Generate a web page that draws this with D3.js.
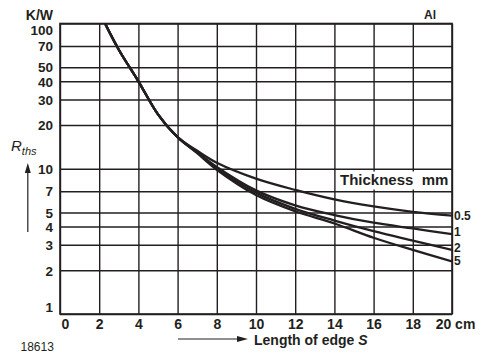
<!DOCTYPE html>
<html>
<head>
<meta charset="utf-8">
<script src="https://cdn.jsdelivr.net/npm/d3@7"></script>
<style>
  html, body { margin: 0; padding: 0; background: #fff; }
  svg { display: block; font-family: "Liberation Sans", Arial, Helvetica, sans-serif; }
</style>
</head>
<body>
<script>
// ---- data ----
const xTicks = [0, 2, 4, 6, 8, 10, 12, 14, 16, 18, 20];
const xTickLabels = ["0", "2", "4", "6", "8", "10", "12", "14", "16", "18", "20 cm"];
const yTicks = [1, 2, 3, 4, 5, 7, 10, 20, 30, 40, 50, 70, 100];
const yTickLabels = ["1", "2", "3", "4", "5", "7", "10", "20", "30", "40", "50", "70", "100"];

const edgeLength = [2.3, 3, 4, 5, 6, 7, 8, 10, 12, 14, 16, 18, 20];
const thick05 = [100, 66, 40, 23.7, 16.5, 13.3, 11.0, 8.55, 7.15, 6.15, 5.5, 5.05, 4.75];
const thick1  = [100, 66, 40, 23.7, 16.5, 13.0, 10.3, 7.1, 5.6, 4.8, 4.25, 3.88, 3.55];
const thick2  = [100, 66, 40, 23.7, 16.5, 12.9, 10.05, 6.85, 5.3, 4.4, 3.72, 3.2, 2.76];
const thick5  = [100, 66, 40, 23.7, 16.5, 12.8, 9.85, 6.6, 5.1, 4.2, 3.35, 2.76, 2.3];
const thicknessLabels = ["0.5", "1", "2", "5"];
const seriesValues = [thick05, thick1, thick2, thick5];

// ---- layout ----
const W = 483, H = 354;
const pLeft = 60, pRight = 452, pTop = 23.5, pBottom = 314;
const ink = "#231f20";

const svg = d3.select("body").append("svg").attr("width", W).attr("height", H);

const x = d3.scaleLinear().domain([0, 20]).range([pLeft, pRight]);
const y = d3.scaleLog().domain([1, 100]).range([pBottom, pTop]);

// Vertical grid + x labels
const xAxis = svg.append("g")
  .attr("transform", `translate(0,${pBottom})`)
  .call(d3.axisBottom(x).tickValues(xTicks).tickSize(-(pBottom - pTop)).tickPadding(5)
    .tickFormat((d, i) => xTickLabels[i]));
xAxis.select(".domain").remove();
xAxis.selectAll(".tick line").attr("stroke", ink).attr("stroke-width", 1.4);
xAxis.selectAll(".tick text")
  .attr("fill", ink).attr("font-size", 14).attr("font-weight", "bold")
  .attr("dx", (d, i) => i === 0 ? 5 : (i === xTicks.length - 1 ? 3 : 0));

// Horizontal grid + y labels
const yAxis = svg.append("g")
  .attr("transform", `translate(${pLeft},0)`)
  .call(d3.axisLeft(y).tickValues(yTicks).tickSize(-(pRight - pLeft)).tickPadding(7)
    .tickFormat((d, i) => yTickLabels[i]));
yAxis.select(".domain").remove();
yAxis.selectAll(".tick line").attr("stroke", ink).attr("stroke-width", 1.4);
yAxis.selectAll(".tick text")
  .attr("fill", ink).attr("font-size", 13.5).attr("font-weight", "bold")
  .attr("dy", d => d === 100 ? "0.85em" : (d === 1 ? "-0.15em" : "0.35em"));

// frame
svg.append("rect")
  .attr("x", pLeft).attr("y", pTop).attr("width", pRight - pLeft).attr("height", pBottom - pTop)
  .attr("fill", "none").attr("stroke", ink).attr("stroke-width", 1.6);

// "Thickness mm" legend header with white backing
svg.append("rect").attr("x", 339).attr("y", 171.5).attr("width", 112).attr("height", 18)
  .attr("fill", "#fff");
svg.append("text").attr("x", 340).attr("y", 185)
  .attr("font-size", 15).attr("font-weight", "bold").attr("fill", ink)
  .style("white-space", "pre").text("Thickness  mm");

// curves
const line = d3.line()
  .x((d, i) => x(edgeLength[i]))
  .y(d => y(d))
  .curve(d3.curveCatmullRom.alpha(0.5));

svg.append("clipPath").attr("id", "plotclip").append("rect")
  .attr("x", pLeft).attr("y", pTop).attr("width", pRight - pLeft).attr("height", pBottom - pTop);

svg.append("g").attr("clip-path", "url(#plotclip)")
  .selectAll("path").data(seriesValues).join("path")
  .attr("d", line)
  .attr("fill", "none").attr("stroke", ink).attr("stroke-width", 2.3)
  .attr("stroke-linejoin", "round");

// curve end labels
const labelShift = [0, -2.5, -2, -0.5];
svg.append("g").selectAll("text").data(seriesValues).join("text")
  .attr("x", pRight + 2)
  .attr("y", (d, i) => y(d[d.length - 1]) + labelShift[i])
  .attr("dy", "0.35em")
  .attr("font-size", 12).attr("font-weight", "bold").attr("fill", ink)
  .text((d, i) => thicknessLabels[i]);

// unit label
svg.append("text").attr("x", 53).attr("y", 20).attr("text-anchor", "end")
  .attr("font-size", 14).attr("font-weight", "bold").attr("fill", ink).text("K/W");

// Al
svg.append("text").attr("x", 430).attr("y", 19).attr("text-anchor", "middle")
  .attr("font-size", 12).attr("font-weight", "bold").attr("fill", ink).text("Al");

// R_ths label
const rLab = svg.append("text").attr("x", 11).attr("y", 151)
  .attr("font-size", 15).attr("font-style", "italic").attr("fill", ink);
rLab.append("tspan").text("R");
rLab.append("tspan").attr("font-size", 11).attr("dy", 4).text("ths");

// vertical arrow
svg.append("line").attr("x1", 27.8).attr("x2", 27.8).attr("y1", 232).attr("y2", 171)
  .attr("stroke", ink).attr("stroke-width", 1.2);
svg.append("path").attr("d", "M27.8,163 L24.8,173 L30.8,173 Z").attr("fill", ink);

// x-axis title with arrow
svg.append("line").attr("x1", 178).attr("x2", 240).attr("y1", 339).attr("y2", 339)
  .attr("stroke", ink).attr("stroke-width", 1.2);
svg.append("path").attr("d", "M248,339 L237,336 L237,342 Z").attr("fill", ink);
const xt = svg.append("text").attr("x", 254).attr("y", 345)
  .attr("font-size", 14).attr("font-weight", "bold").attr("fill", ink)
  .style("white-space", "pre");
xt.append("tspan").text("Length of edge ");
xt.append("tspan").attr("font-style", "italic").text("S");

// figure number
svg.append("text").attr("x", 20.5).attr("y", 351)
  .attr("font-size", 12).attr("fill", ink).text("18613");
</script>
</body>
</html>
